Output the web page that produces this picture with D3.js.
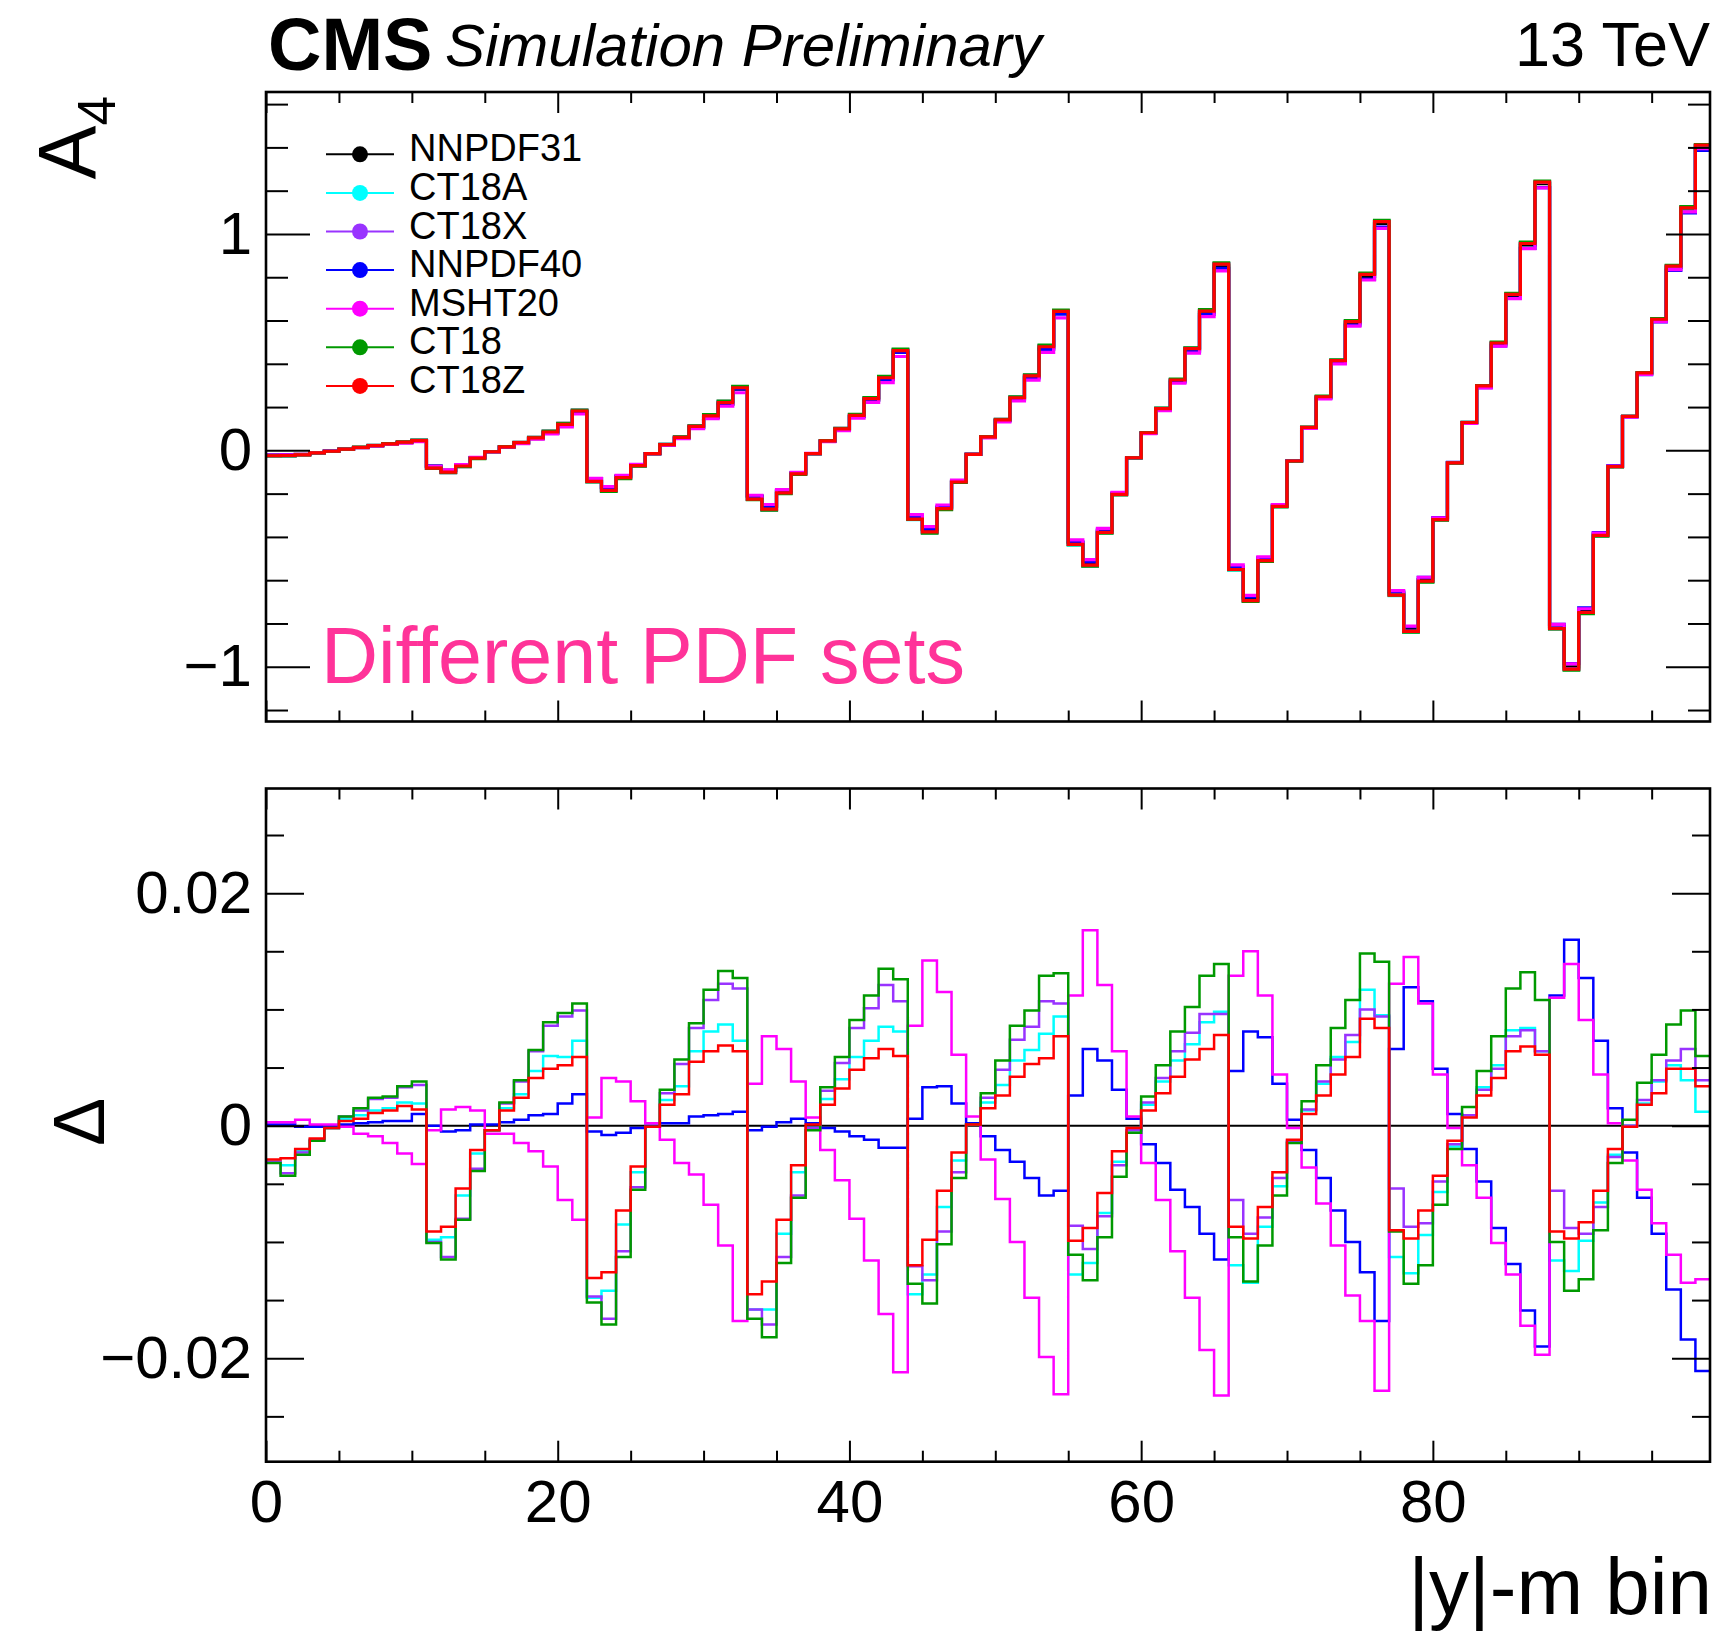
<!DOCTYPE html>
<html>
<head>
<meta charset="utf-8">
<script src="https://cdn.jsdelivr.net/npm/d3@7"></script>
<style>
  body { margin: 0; background: #fff; }
  text { font-family: "Liberation Sans", Arial, Helvetica, sans-serif; }
</style>
</head>
<body>
<div id="chart"></div>
<script>
WIDTH = 1722;
HEIGHT = 1637;
NBINS = 99;

// series names + colours, in legend / draw order
const seriesNames = ["NNPDF31", "CT18A", "CT18X", "NNPDF40", "MSHT20", "CT18", "CT18Z"];
const seriesColors = ["#000000", "#00ffff", "#9933ff", "#0000ff", "#ff00ff", "#009900", "#ff0000"];

// A4 for the nominal set (NNPDF31), 9 |y| bins x 11 mass bins
const nominal = [
  -0.022, -0.021, -0.019, -0.011, -0.004, 0.005, 0.013, 0.021, 0.029, 0.036, 0.044,
  -0.073, -0.092, -0.067, -0.034, -0.006, 0.015, 0.033, 0.054, 0.080, 0.115, 0.176,
  -0.130, -0.172, -0.119, -0.067, -0.015, 0.025, 0.057, 0.105, 0.153, 0.214, 0.283,
  -0.211, -0.258, -0.188, -0.105, -0.015, 0.042, 0.096, 0.157, 0.233, 0.329, 0.455,
  -0.306, -0.367, -0.264, -0.144, -0.019, 0.061, 0.138, 0.239, 0.339, 0.473, 0.635,
  -0.425, -0.522, -0.373, -0.201, -0.034, 0.080, 0.190, 0.321, 0.464, 0.637, 0.853,
  -0.542, -0.685, -0.503, -0.255, -0.048, 0.105, 0.245, 0.410, 0.589, 0.804, 1.049,
  -0.660, -0.827, -0.597, -0.316, -0.057, 0.128, 0.295, 0.492, 0.714, 0.949, 1.233,
  -0.815, -1.001, -0.741, -0.387, -0.073, 0.157, 0.356, 0.603, 0.846, 1.116, 1.407
];

// differences to NNPDF31
const deltaCT18A = [
  -0.0031, -0.0034, -0.0022, -0.0012, -0.0002, 0.0006, 0.0009, 0.0013, 0.0015, 0.0020, 0.0019,
  -0.0098, -0.0096, -0.0060, -0.0024, -0.0004, 0.0015, 0.0027, 0.0047, 0.0060, 0.0059, 0.0073,
  -0.0148, -0.0142, -0.0085, -0.0040, -0.0001, 0.0022, 0.0034, 0.0064, 0.0081, 0.0087, 0.0073,
  -0.0158, -0.0158, -0.0093, -0.0040, -0.0002, 0.0023, 0.0040, 0.0059, 0.0073, 0.0085, 0.0081,
  -0.0145, -0.0128, -0.0070, -0.0030, 0.0001, 0.0020, 0.0035, 0.0056, 0.0065, 0.0079, 0.0094,
  -0.0128, -0.0118, -0.0075, -0.0031, -0.0004, 0.0018, 0.0038, 0.0056, 0.0070, 0.0089, 0.0098,
  -0.0120, -0.0135, -0.0087, -0.0052, -0.0014, 0.0013, 0.0036, 0.0059, 0.0072, 0.0117, 0.0095,
  -0.0113, -0.0127, -0.0094, -0.0057, -0.0018, 0.0009, 0.0033, 0.0052, 0.0082, 0.0084, 0.0064,
  -0.0116, -0.0125, -0.0099, -0.0066, -0.0025, 0.0000, 0.0019, 0.0038, 0.0052, 0.0039, 0.0012
];
const deltaCT18X = [
  -0.0031, -0.0041, -0.0023, -0.0012, -0.0002, 0.0008, 0.0013, 0.0023, 0.0024, 0.0033, 0.0035,
  -0.0100, -0.0113, -0.0080, -0.0037, -0.0004, 0.0019, 0.0038, 0.0064, 0.0086, 0.0094, 0.0099,
  -0.0147, -0.0166, -0.0108, -0.0053, -0.0001, 0.0028, 0.0053, 0.0084, 0.0108, 0.0122, 0.0118,
  -0.0158, -0.0171, -0.0113, -0.0060, -0.0002, 0.0030, 0.0054, 0.0084, 0.0101, 0.0121, 0.0107,
  -0.0121, -0.0133, -0.0091, -0.0040, 0.0001, 0.0024, 0.0048, 0.0074, 0.0085, 0.0107, 0.0105,
  -0.0086, -0.0106, -0.0078, -0.0034, -0.0004, 0.0020, 0.0041, 0.0064, 0.0080, 0.0096, 0.0096,
  -0.0064, -0.0093, -0.0079, -0.0045, -0.0013, 0.0014, 0.0038, 0.0057, 0.0078, 0.0100, 0.0094,
  -0.0054, -0.0087, -0.0084, -0.0048, -0.0016, 0.0009, 0.0031, 0.0049, 0.0077, 0.0082, 0.0064,
  -0.0056, -0.0088, -0.0093, -0.0070, -0.0027, 0.0000, 0.0022, 0.0039, 0.0056, 0.0066, 0.0039
];
const deltaNNPDF40 = [
  0.0001, 0.0001, -0.0001, -0.0001, 0.0000, 0.0001, 0.0002, 0.0003, 0.0004, 0.0004, 0.0010,
  0.0000, -0.0005, -0.0004, 0.0001, 0.0001, 0.0003, 0.0005, 0.0009, 0.0010, 0.0019, 0.0027,
  -0.0005, -0.0008, -0.0006, -0.0002, 0.0000, 0.0002, 0.0002, 0.0008, 0.0009, 0.0010, 0.0012,
  -0.0004, -0.0001, 0.0003, 0.0006, 0.0002, -0.0002, -0.0005, -0.0009, -0.0012, -0.0019, -0.0019,
  0.0006, 0.0033, 0.0034, 0.0019, 0.0002, -0.0009, -0.0021, -0.0031, -0.0045, -0.0060, -0.0056,
  0.0026, 0.0066, 0.0056, 0.0031, 0.0006, -0.0016, -0.0032, -0.0055, -0.0070, -0.0093, -0.0115,
  0.0047, 0.0081, 0.0076, 0.0036, 0.0005, -0.0021, -0.0045, -0.0073, -0.0100, -0.0126, -0.0168,
  0.0066, 0.0119, 0.0107, 0.0049, 0.0010, -0.0020, -0.0048, -0.0088, -0.0119, -0.0159, -0.0190,
  0.0112, 0.0160, 0.0127, 0.0073, 0.0015, -0.0023, -0.0062, -0.0093, -0.0141, -0.0184, -0.0211
];
const deltaMSHT20 = [
  0.0003, 0.0003, 0.0005, 0.0001, 0.0001, -0.0001, -0.0007, -0.0009, -0.0015, -0.0024, -0.0033,
  -0.0004, 0.0014, 0.0016, 0.0013, -0.0007, -0.0007, -0.0015, -0.0022, -0.0035, -0.0064, -0.0081,
  0.0007, 0.0041, 0.0038, 0.0021, 0.0002, -0.0012, -0.0032, -0.0042, -0.0068, -0.0103, -0.0168,
  0.0036, 0.0077, 0.0066, 0.0038, 0.0007, -0.0021, -0.0047, -0.0080, -0.0116, -0.0162, -0.0212,
  0.0086, 0.0142, 0.0115, 0.0061, 0.0008, -0.0029, -0.0063, -0.0100, -0.0148, -0.0199, -0.0231,
  0.0112, 0.0168, 0.0121, 0.0064, 0.0008, -0.0032, -0.0064, -0.0108, -0.0148, -0.0193, -0.0232,
  0.0129, 0.0150, 0.0112, 0.0044, -0.0002, -0.0036, -0.0067, -0.0103, -0.0146, -0.0168, -0.0228,
  0.0122, 0.0145, 0.0105, 0.0044, -0.0002, -0.0034, -0.0062, -0.0101, -0.0128, -0.0172, -0.0197,
  0.0110, 0.0139, 0.0091, 0.0044, 0.0002, -0.0030, -0.0055, -0.0084, -0.0111, -0.0135, -0.0132
];
const deltaCT18 = [
  -0.0032, -0.0043, -0.0025, -0.0013, -0.0002, 0.0008, 0.0015, 0.0024, 0.0025, 0.0034, 0.0038,
  -0.0101, -0.0115, -0.0081, -0.0039, -0.0004, 0.0020, 0.0039, 0.0065, 0.0089, 0.0097, 0.0105,
  -0.0152, -0.0171, -0.0113, -0.0055, -0.0001, 0.0031, 0.0057, 0.0088, 0.0117, 0.0133, 0.0127,
  -0.0166, -0.0182, -0.0118, -0.0062, -0.0004, 0.0033, 0.0059, 0.0091, 0.0112, 0.0135, 0.0126,
  -0.0136, -0.0153, -0.0102, -0.0045, 0.0001, 0.0028, 0.0056, 0.0086, 0.0099, 0.0129, 0.0131,
  -0.0111, -0.0133, -0.0096, -0.0044, -0.0006, 0.0025, 0.0052, 0.0081, 0.0102, 0.0129, 0.0139,
  -0.0096, -0.0134, -0.0103, -0.0060, -0.0015, 0.0021, 0.0052, 0.0084, 0.0108, 0.0148, 0.0141,
  -0.0091, -0.0136, -0.0120, -0.0068, -0.0020, 0.0016, 0.0047, 0.0077, 0.0118, 0.0132, 0.0108,
  -0.0100, -0.0142, -0.0132, -0.0090, -0.0032, 0.0005, 0.0037, 0.0061, 0.0087, 0.0099, 0.0060
];
const deltaCT18Z = [
  -0.0029, -0.0028, -0.0020, -0.0011, -0.0002, 0.0004, 0.0006, 0.0011, 0.0013, 0.0017, 0.0014,
  -0.0091, -0.0087, -0.0054, -0.0021, -0.0004, 0.0013, 0.0024, 0.0041, 0.0049, 0.0052, 0.0059,
  -0.0131, -0.0126, -0.0073, -0.0035, -0.0001, 0.0018, 0.0027, 0.0055, 0.0064, 0.0069, 0.0064,
  -0.0145, -0.0134, -0.0081, -0.0034, 0.0001, 0.0018, 0.0032, 0.0048, 0.0058, 0.0066, 0.0060,
  -0.0120, -0.0098, -0.0056, -0.0023, 0.0001, 0.0015, 0.0026, 0.0042, 0.0053, 0.0058, 0.0077,
  -0.0099, -0.0088, -0.0058, -0.0022, -0.0002, 0.0013, 0.0028, 0.0042, 0.0057, 0.0066, 0.0078,
  -0.0087, -0.0097, -0.0070, -0.0040, -0.0012, 0.0010, 0.0026, 0.0044, 0.0059, 0.0092, 0.0084,
  -0.0090, -0.0097, -0.0073, -0.0043, -0.0013, 0.0007, 0.0026, 0.0041, 0.0064, 0.0068, 0.0061,
  -0.0091, -0.0097, -0.0083, -0.0056, -0.0020, -0.0001, 0.0018, 0.0028, 0.0049, 0.0049, 0.0034
];

const xMajorTicks = [0, 20, 40, 60, 80];
const xMinorTicks = d3.range(5, 99, 5).filter(v => v % 20 !== 0);
const topMajorTicks = [-1, 0, 1];
const topMinorTicks = [-1.2, -0.8, -0.6, -0.4, -0.2, 0.2, 0.4, 0.6, 0.8, 1.2, 1.4, 1.6];
const botMajorTicks = [-0.02, 0, 0.02];
const botMinorTicks = [-0.025, -0.015, -0.01, -0.005, 0.005, 0.01, 0.015, 0.025];

// deltas, with the nominal itself (zero) first
const deltas = [nominal.map(v => v - v), deltaCT18A, deltaCT18X, deltaNNPDF40, deltaMSHT20, deltaCT18, deltaCT18Z];

const svg = d3.select("#chart").append("svg")
    .attr("width", WIDTH).attr("height", HEIGHT)
    .style("background", "#fff");

const LEFT = 266, RIGHT = 1710;
const TOP_Y0 = 92, TOP_Y1 = 721.5;
const BOT_Y0 = 788.5, BOT_Y1 = 1461.7;

let x = d3.scaleLinear().domain([0, NBINS]).range([LEFT, RIGHT]);
let yTop = d3.scaleLinear().domain([-1.253, 1.656]).range([TOP_Y1, TOP_Y0]);
let yBot = d3.scaleLinear().domain([-0.0289, 0.0290]).range([BOT_Y1, BOT_Y0]);

function stepPoints(vals) {
    let pts = vals.map((v, i) => [i, v]);
    pts.push([NBINS, vals[vals.length - 1]]);
    return pts;
}

function drawTicks(g, axisFn, scale, values, len, transform) {
    g.append("g")
        .attr("transform", transform)
        .call(axisFn(scale).tickValues(values).tickSize(-len).tickSizeOuter(0).tickFormat(""))
        .call(s => s.select(".domain").remove())
        .selectAll("line").attr("stroke", "#000").attr("stroke-width", 2);
}

function drawPanel(name, yScale, y0, y1, seriesVals, lineWidth, yMajor, yMinor, yFmt, yMajLen, yMinLen) {
    let g = svg.append("g").attr("class", name);

    svg.append("clipPath").attr("id", "clip-" + name)
        .append("rect").attr("x", LEFT).attr("y", y0)
        .attr("width", RIGHT - LEFT).attr("height", y1 - y0);

    let line = d3.line()
        .x(d => x(d[0]))
        .y(d => yScale(d[1]))
        .curve(d3.curveStepAfter);

    g.append("g").attr("clip-path", "url(#clip-" + name + ")")
        .selectAll("path").data(seriesVals).enter().append("path")
        .attr("d", d => line(stepPoints(d)))
        .attr("fill", "none")
        .attr("stroke", (d, i) => seriesColors[i])
        .attr("stroke-width", (d, i) => i === 0 && name === "bottom" ? 2 : lineWidth)
        .attr("stroke-linejoin", "miter");

    // ticks on all four sides, pointing inward
    drawTicks(g, d3.axisBottom, x, xMajorTicks, 21, `translate(0,${y1})`);
    drawTicks(g, d3.axisBottom, x, xMinorTicks, 11, `translate(0,${y1})`);
    drawTicks(g, d3.axisTop, x, xMajorTicks, 21, `translate(0,${y0})`);
    drawTicks(g, d3.axisTop, x, xMinorTicks, 11, `translate(0,${y0})`);
    drawTicks(g, d3.axisLeft, yScale, yMajor, yMajLen, `translate(${LEFT},0)`);
    drawTicks(g, d3.axisLeft, yScale, yMinor, yMinLen, `translate(${LEFT},0)`);
    drawTicks(g, d3.axisRight, yScale, yMajor, yMajLen, `translate(${RIGHT},0)`);
    drawTicks(g, d3.axisRight, yScale, yMinor, yMinLen, `translate(${RIGHT},0)`);

    // y labels
    g.append("g")
        .attr("transform", `translate(${LEFT},0)`)
        .call(d3.axisLeft(yScale).tickValues(yMajor).tickSize(0).tickPadding(14).tickFormat(yFmt))
        .call(s => s.select(".domain").remove())
        .selectAll("text")
        .attr("font-size", 60)
        .attr("font-family", '"Liberation Sans", Arial, sans-serif')
        .attr("fill", "#000");

    g.append("rect")
        .attr("x", LEFT).attr("y", y0)
        .attr("width", RIGHT - LEFT).attr("height", y1 - y0)
        .attr("fill", "none").attr("stroke", "#000").attr("stroke-width", 2.6);
    return g;
}

// top: A4 per set (nominal + delta)
let topVals = deltas.map(dl => nominal.map((v, i) => v + dl[i]));
drawPanel("top", yTop, TOP_Y0, TOP_Y1, topVals, 3.2,
    topMajorTicks, topMinorTicks, d3.format("d"), 44, 22);

// bottom: differences
let bot = drawPanel("bottom", yBot, BOT_Y0, BOT_Y1, deltas, 2.5,
    botMajorTicks, botMinorTicks, d => d === 0 ? "0" : d3.format(".2f")(d).replace("-", "\u2212"), 38, 18);

// x labels under bottom panel
bot.append("g")
    .attr("transform", `translate(0,${BOT_Y1})`)
    .call(d3.axisBottom(x).tickValues(xMajorTicks).tickSize(0).tickPadding(18).tickFormat(d3.format("d")))
    .call(s => s.select(".domain").remove())
    .selectAll("text")
    .attr("font-size", 60)
    .attr("font-family", '"Liberation Sans", Arial, sans-serif')
    .attr("fill", "#000");

// axis titles
svg.append("text")
    .attr("x", RIGHT + 2).attr("y", 1614)
    .attr("text-anchor", "end")
    .attr("font-size", 80)
    .text("|y|-m bin");

let a4 = svg.append("text")
    .attr("transform", "translate(95,96) rotate(-90)")
    .attr("text-anchor", "end")
    .attr("font-size", 81);
a4.append("tspan").text("A");
a4.append("tspan").attr("font-size", 53).attr("dy", 20).text("4");

svg.append("text")
    .attr("transform", "translate(104,1122) rotate(-90)")
    .attr("text-anchor", "middle")
    .attr("font-size", 72)
    .text("\u0394");

// header
svg.append("text").attr("x", 268).attr("y", 70)
    .attr("font-size", 74).attr("font-weight", "bold").text("CMS");
svg.append("text").attr("x", 445).attr("y", 66)
    .attr("font-size", 60).attr("font-style", "italic").text("Simulation Preliminary");
svg.append("text").attr("x", RIGHT).attr("y", 66)
    .attr("text-anchor", "end").attr("font-size", 63).text("13 TeV");

svg.append("text").attr("x", 321).attr("y", 683)
    .attr("font-size", 79).attr("fill", "#ff3399").text("Different PDF sets");

// legend
let legend = svg.append("g").attr("class", "legend");
let rows = legend.selectAll("g").data(seriesNames).enter().append("g")
    .attr("transform", (d, i) => `translate(0,${154.3 + i * 38.6})`);
rows.append("line")
    .attr("x1", 326).attr("x2", 394).attr("y1", 0).attr("y2", 0)
    .attr("stroke", (d, i) => seriesColors[i]).attr("stroke-width", 2);
rows.append("circle")
    .attr("cx", 360).attr("cy", 0).attr("r", 8)
    .attr("fill", (d, i) => seriesColors[i]);
rows.append("text")
    .attr("x", 409).attr("y", 7)
    .attr("font-size", 38)
    .text(d => d);
</script>
</body>
</html>
